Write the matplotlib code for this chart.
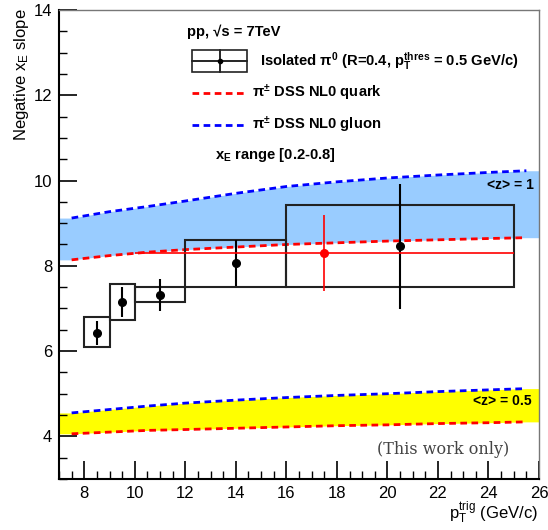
import numpy as np
import matplotlib.pyplot as plt
from matplotlib.patches import Rectangle
from matplotlib.lines import Line2D

plt.rcParams['font.family'] = ['Liberation Sans', 'DejaVu Sans']
plt.rcParams['mathtext.default'] = 'regular'

# isolated pi0 points (black) with systematic boxes
pt_trig = [8.5, 9.5, 11.0, 14.0, 20.5]
pt_lo = [8.0, 9.0, 10.0, 12.0, 16.0]
pt_hi = [9.0, 10.0, 12.0, 16.0, 25.0]
slope = [6.43, 7.15, 7.31, 8.07, 8.46]
stat_err = [0.28, 0.36, 0.38, 0.54, 1.47]
sys_lo = [6.09, 6.73, 7.14, 7.51, 7.51]
sys_hi = [6.79, 7.57, 7.51, 8.61, 9.42]

# single red point
red_pt = [17.5]
red_slope = [8.30]
red_xerr = [7.5]
red_yerr_lo = [0.90]
red_yerr_hi = [0.89]

# DSS NLO curves
theory_pt = [7.5, 9, 10.5, 12, 14, 16, 18, 20, 22, 24, 25.5]
gluon_z1 = [9.12, 9.27, 9.39, 9.52, 9.70, 9.86, 9.97, 10.06, 10.13, 10.19, 10.23]
quark_z1 = [8.14, 8.24, 8.32, 8.38, 8.44, 8.50, 8.54, 8.58, 8.61, 8.64, 8.66]
gluon_z05 = [4.55, 4.63, 4.71, 4.78, 4.85, 4.91, 4.96, 5.00, 5.05, 5.09, 5.12]
quark_z05 = [4.06, 4.10, 4.14, 4.16, 4.19, 4.22, 4.25, 4.27, 4.30, 4.32, 4.34]

xmin, xmax = 7, 26
ymin, ymax = 3, 14

fig = plt.figure(figsize=(5.48, 5.30), dpi=100)
ax = fig.add_axes([59/548, 1-479/530, 480/548, 469/530])

# bands (stretched to the frame edges)
band_x = np.r_[xmin, theory_pt, xmax]
def ext(v):
    return np.r_[v[0], v, v[-1]]
ax.fill_between(band_x, ext(quark_z1), ext(gluon_z1), color='#99ccff', lw=0, zorder=1)
ax.fill_between(band_x, ext(quark_z05), ext(gluon_z05), color='#ffff00', lw=0, zorder=1)

dash = (0, (2.4, 1.6))
for q, g in [(quark_z1, gluon_z1), (quark_z05, gluon_z05)]:
    ax.plot(theory_pt, q, color='#ff0000', lw=2, ls=dash, zorder=2)
    ax.plot(theory_pt, g, color='#0000ff', lw=2, ls=dash, zorder=2)

# systematic boxes
for lo, hi, sl, sh in zip(pt_lo, pt_hi, sys_lo, sys_hi):
    ax.add_patch(Rectangle((lo, sl), hi - lo, sh - sl, fill=False,
                           ec='#222222', lw=1.5, zorder=3))

ax.errorbar(pt_trig, slope, yerr=stat_err, fmt='o', color='black', ms=5.5,
            elinewidth=1.5, capsize=0, zorder=4)
ax.errorbar(red_pt, red_slope, xerr=red_xerr, yerr=[red_yerr_lo, red_yerr_hi],
            fmt='o', color='#ff0000', ms=5.5, elinewidth=1.2, capsize=0, zorder=4)

ax.set_xlim(xmin, xmax)
ax.set_ylim(ymin, ymax)
ax.set_xticks(np.arange(8, 27, 2))
ax.set_xticks(np.arange(7, 26.01, 0.5), minor=True)
ax.set_yticks(np.arange(4, 15, 2))
ax.set_yticks(np.arange(3, 14.01, 0.5), minor=True)
ax.tick_params(which='both', direction='in', top=False, right=False, labelsize=12, pad=5)
ax.tick_params(which='major', length=13, width=1.2)
ax.tick_params(which='minor', length=6, width=1.0)
for s in ['left', 'bottom']:
    ax.spines[s].set_linewidth(1.5)
for s in ['top', 'right']:
    ax.spines[s].set_linewidth(1.0)
    ax.spines[s].set_color('#777777')

fig.text(22/548, 1-8/530, 'Negative x$_E$ slope', rotation=90, ha='center', va='top', fontsize=12)
fig.text(538/548, 1-519/530, 'p$_T^{trig}$ (GeV/c)', ha='right', va='baseline', fontsize=12)

# legend drawn by hand
t = ax.transAxes
fs = 10.6
ax.text(0.267, 0.953, 'pp, √s = 7TeV', transform=t, fontsize=fs, fontweight='bold', va='center')
ax.add_patch(Rectangle((0.277, 0.868), 0.115, 0.047, transform=t, fill=False, ec='#222222', lw=1.2, zorder=5))
ax.add_line(Line2D([0.277, 0.392], [0.891, 0.891], transform=t, color='black', lw=1.2))
ax.add_line(Line2D([0.3345, 0.3345], [0.868, 0.915], transform=t, color='black', lw=1.2))
ax.plot([0.3345], [0.891], 'o', color='black', ms=3, transform=t)
ax.text(0.419, 0.891, 'Isolated π$^0$ (R=0.4, p$_T^{thres}$ = 0.5 GeV/c)', transform=t,
        fontsize=fs, fontweight='bold', va='center')
ax.add_line(Line2D([0.277, 0.392], [0.823, 0.823], transform=t, color='#ff0000', lw=2, ls=dash))
ax.text(0.402, 0.823, 'π$^{\\pm}$ DSS NL0 quark', transform=t, fontsize=fs, fontweight='bold', va='center')
ax.add_line(Line2D([0.277, 0.392], [0.755, 0.755], transform=t, color='#0000ff', lw=2, ls=dash))
ax.text(0.402, 0.755, 'π$^{\\pm}$ DSS NL0 gluon', transform=t, fontsize=fs, fontweight='bold', va='center')
ax.text(0.325, 0.691, 'x$_E$ range [0.2-0.8]', transform=t, fontsize=fs, fontweight='bold', va='center')

ax.text(0.990, 0.627, '<z> = 1', transform=t, fontsize=10, fontweight='bold', ha='right', va='center', zorder=6)
ax.text(0.985, 0.166, '<z> = 0.5', transform=t, fontsize=10, fontweight='bold', ha='right', va='center', zorder=6)
ax.text(0.801, 0.062, '(This work only)', transform=t, fontsize=11.5, family='DejaVu Serif',
        color='#444444', ha='center', va='center')

fig.savefig('out.png', dpi=100)
